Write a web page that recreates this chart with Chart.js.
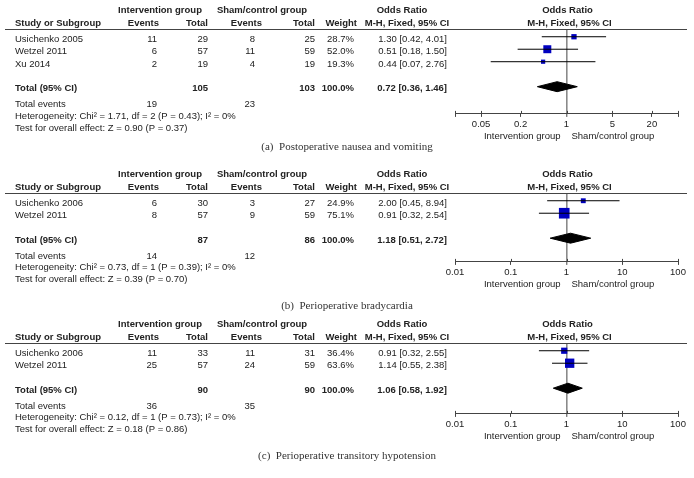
<!DOCTYPE html>
<html>
<head>
<meta charset="utf-8">
<script src="https://cdn.jsdelivr.net/npm/chart.js@4.4.1/dist/chart.umd.min.js"></script>
<style>
  body { margin: 0; background: #fff; }
  #page { position: relative; width: 694px; height: 478px; overflow: hidden; }
  canvas { position: absolute; left: 0; }
  .caption { position: absolute; left: 0; width: 694px; text-align: center; white-space: pre;
             font: 11px "Liberation Serif", "Times New Roman", serif; line-height: 14px; color: #333; }
</style>
</head>
<body>
<div id="page">
  <canvas id="plotA" width="694" height="160" style="top:0px"></canvas>
  <div class="caption" style="top:139px">(a)  Postoperative nausea and vomiting</div>
  <canvas id="plotB" width="694" height="158" style="top:160px"></canvas>
  <div class="caption" style="top:298px">(b)  Perioperative bradycardia</div>
  <canvas id="plotC" width="694" height="160" style="top:318px"></canvas>
  <div class="caption" style="top:448px">(c)  Perioperative transitory hypotension</div>
</div>
<script>
// (a) postoperative nausea and vomiting
const studiesA = ['Usichenko 2005', 'Wetzel 2011', 'Xu 2014'];
const intEventsA = [11, 6, 2];
const intTotalA = [29, 57, 19];
const ctlEventsA = [8, 11, 4];
const ctlTotalA = [25, 59, 19];
const weightA = [28.7, 52.0, 19.3];
const orA = [1.30, 0.51, 0.44];
const loA = [0.42, 0.18, 0.07];
const hiA = [4.01, 1.50, 2.76];
const pooledA = [0.72, 0.36, 1.46];
const hetA = 'Heterogeneity: Chi\u00b2 = 1.71, df = 2 (P = 0.43); I\u00b2 = 0%';
const effectA = 'Test for overall effect: Z = 0.90 (P = 0.37)';
const ticksA = [0.02, 0.05, 0.2, 1, 5, 20, 50];
const tickLabelsA = ['', '0.05', '0.2', '1', '5', '20', ''];

// (b) perioperative bradycardia
const studiesB = ['Usichenko 2006', 'Wetzel 2011'];
const intEventsB = [6, 8];
const intTotalB = [30, 57];
const ctlEventsB = [3, 9];
const ctlTotalB = [27, 59];
const weightB = [24.9, 75.1];
const orB = [2.00, 0.91];
const loB = [0.45, 0.32];
const hiB = [8.94, 2.54];
const pooledB = [1.18, 0.51, 2.72];
const hetB = 'Heterogeneity: Chi\u00b2 = 0.73, df = 1 (P = 0.39); I\u00b2 = 0%';
const effectB = 'Test for overall effect: Z = 0.39 (P = 0.70)';
const ticksB = [0.01, 0.1, 1, 10, 100];
const tickLabelsB = ['0.01', '0.1', '1', '10', '100'];

// (c) perioperative transitory hypotension
const studiesC = ['Usichenko 2006', 'Wetzel 2011'];
const intEventsC = [11, 25];
const intTotalC = [33, 57];
const ctlEventsC = [11, 24];
const ctlTotalC = [31, 59];
const weightC = [36.4, 63.6];
const orC = [0.91, 1.14];
const loC = [0.32, 0.55];
const hiC = [2.55, 2.38];
const pooledC = [1.06, 0.58, 1.92];
const hetC = 'Heterogeneity: Chi\u00b2 = 0.12, df = 1 (P = 0.73); I\u00b2 = 0%';
const effectC = 'Test for overall effect: Z = 0.18 (P = 0.86)';
const ticksC = [0.01, 0.1, 1, 10, 100];
const tickLabelsC = ['0.01', '0.1', '1', '10', '100'];

const SANS = '"Liberation Sans", Arial, sans-serif';
const INK = '#222';
const FS = 9.5;

const sum = arr => arr.reduce((a, b) => a + b, 0);
const ci = (or, lo, hi) => `${or.toFixed(2)} [${lo.toFixed(2)}, ${hi.toFixed(2)}]`;

// table text, header rule and the upward half of the tick marks
function tablePlugin(p) {
  return {
    id: 'forestTable',
    afterDraw(chart) {
      const ctx = chart.ctx;
      const xs = chart.scales.x, ys = chart.scales.y;
      const top = chart.chartArea.top, bottom = chart.chartArea.bottom;
      const one = xs.getPixelForValue(1);
      const n = p.studies.length;

      const text = (s, x, y, align, bold) => {
        ctx.font = `${bold ? 'bold ' : ''}${FS}px ${SANS}`;
        ctx.textAlign = align;
        ctx.fillText(s, x, y);
      };

      ctx.save();
      ctx.fillStyle = INK;
      ctx.textBaseline = 'middle';

      // header
      let y = top - 18.8;
      text('Intervention group', 160, y, 'center', true);
      text('Sham/control group', 262, y, 'center', true);
      text('Odds Ratio', 402, y, 'center', true);
      text('Odds Ratio', one + 1, y, 'center', true);
      y = top - 5.8;
      text('Study or Subgroup', 15, y, 'left', true);
      text('Events', 159, y, 'right', true);
      text('Total', 208, y, 'right', true);
      text('Events', 262, y, 'right', true);
      text('Total', 315, y, 'right', true);
      text('Weight', 357, y, 'right', true);
      text('M-H, Fixed, 95% CI', 407, y, 'center', true);
      text('M-H, Fixed, 95% CI', one + 3, y, 'center', true);

      // studies
      p.studies.forEach((name, i) => {
        const ry = ys.getPixelForValue(i) + 2.5;
        text(name, 15, ry, 'left');
        text(String(p.intEvents[i]), 157, ry, 'right');
        text(String(p.intTotal[i]), 208, ry, 'right');
        text(String(p.ctlEvents[i]), 255, ry, 'right');
        text(String(p.ctlTotal[i]), 315, ry, 'right');
        text(p.weight[i].toFixed(1) + '%', 354, ry, 'right');
        text(ci(p.or[i], p.lo[i], p.hi[i]), 447, ry, 'right');
      });

      // pooled
      const tr = n + 1;
      y = ys.getPixelForValue(tr) + 2;
      text('Total (95% CI)', 15, y, 'left', true);
      text(String(sum(p.intTotal)), 208, y, 'right', true);
      text(String(sum(p.ctlTotal)), 315, y, 'right', true);
      text(sum(p.weight).toFixed(1) + '%', 354, y, 'right', true);
      text(ci(p.pooled[0], p.pooled[1], p.pooled[2]), 447, y, 'right', true);
      y = ys.getPixelForValue(tr + 1.26) + 2;
      text('Total events', 15, y, 'left');
      text(String(sum(p.intEvents)), 157, y, 'right');
      text(String(sum(p.ctlEvents)), 255, y, 'right');
      text(p.het, 15, ys.getPixelForValue(tr + 2.2) + 2, 'left');
      text(p.effect, 15, ys.getPixelForValue(tr + 3.14) + 2, 'left');

      // axis titles either side of no effect
      text('Intervention group', one - 6, bottom + 22, 'right');
      text('Sham/control group', one + 5, bottom + 22, 'left');

      // rule under the header
      ctx.strokeStyle = '#555';
      ctx.lineWidth = 1;
      ctx.beginPath();
      const hy = Math.round(top) + 0.5;
      ctx.moveTo(5, hy);
      ctx.lineTo(687, hy);
      // tick marks cross the axis line
      xs.ticks.forEach(t => {
        const px = Math.round(xs.getPixelForValue(t.value)) + 0.5;
        ctx.moveTo(px, bottom - 3);
        ctx.lineTo(px, bottom);
      });
      ctx.strokeStyle = '#444';
      ctx.stroke();
      ctx.restore();
    }
  };
}

function forestPlot(id, p) {
  const n = p.studies.length;
  const tr = n + 1;
  const datasets = [];

  // confidence intervals
  p.lo.forEach((lo, i) => {
    datasets.push({
      type: 'line',
      data: [{ x: lo, y: i }, { x: p.hi[i], y: i }],
      borderColor: '#000', borderWidth: 1, pointRadius: 0, fill: false,
    });
  });

  // point estimates, size by weight
  datasets.push({
    type: 'scatter',
    data: p.or.map((v, i) => ({ x: v, y: i })),
    pointStyle: 'rect',
    pointRadius: p.weight.map(w => (2 + 0.115 * w) / Math.SQRT2),
    backgroundColor: '#0000c0',
    borderWidth: 0,
  });

  // pooled diamond
  const [est, lo, hi] = p.pooled;
  datasets.push({
    type: 'line',
    data: [
      { x: lo, y: tr }, { x: est, y: tr - 0.4 }, { x: hi, y: tr },
      { x: est, y: tr + 0.4 }, { x: lo, y: tr },
    ],
    fill: 'shape', backgroundColor: '#000', borderColor: '#000',
    borderWidth: 1, pointRadius: 0, tension: 0,
  });

  return new Chart(document.getElementById(id), {
    type: 'scatter',
    data: { datasets },
    options: {
      responsive: false,
      animation: false,
      events: [],
      layout: { padding: { left: 455, right: 16, top: p.padTop, bottom: p.padBottom } },
      plugins: { legend: { display: false }, tooltip: { enabled: false } },
      scales: {
        x: {
          type: 'logarithmic',
          bounds: 'data',
          min: p.ticks[0],
          max: p.ticks[p.ticks.length - 1],
          afterBuildTicks: s => { s.ticks = p.ticks.map(v => ({ value: v })); },
          ticks: {
            callback: (v, i) => p.tickLabels[i],
            autoSkip: false, maxRotation: 0, padding: 2,
            color: INK, font: { family: SANS, size: FS },
          },
          grid: {
            drawOnChartArea: true,
            color: c => (c.tick && c.tick.value === 1 ? '#8a8a8a' : 'rgba(0,0,0,0)'),
            lineWidth: c => (c.tick && c.tick.value === 1 ? 1.6 : 1),
            tickColor: '#444', tickLength: 3, tickWidth: 1,
          },
          border: { display: true, color: '#444', width: 1 },
        },
        y: { type: 'linear', reverse: true, min: -0.62, max: p.yMax, display: false },
      },
    },
    plugins: [tablePlugin(p)],
  });
}

forestPlot('plotA', {
  studies: studiesA, intEvents: intEventsA, intTotal: intTotalA, ctlEvents: ctlEventsA,
  ctlTotal: ctlTotalA, weight: weightA, or: orA, lo: loA, hi: hiA, pooled: pooledA,
  het: hetA, effect: effectA, ticks: ticksA, tickLabels: tickLabelsA,
  padTop: 29, padBottom: 27.7, yMax: 6.18,
});
forestPlot('plotB', {
  studies: studiesB, intEvents: intEventsB, intTotal: intTotalB, ctlEvents: ctlEventsB,
  ctlTotal: ctlTotalB, weight: weightB, or: orB, lo: loB, hi: hiB, pooled: pooledB,
  het: hetB, effect: effectB, ticks: ticksB, tickLabels: tickLabelsB,
  padTop: 33, padBottom: 37.7, yMax: 4.9,
});
forestPlot('plotC', {
  studies: studiesC, intEvents: intEventsC, intTotal: intTotalC, ctlEvents: ctlEventsC,
  ctlTotal: ctlTotalC, weight: weightC, or: orC, lo: loC, hi: hiC, pooled: pooledC,
  het: hetC, effect: effectC, ticks: ticksC, tickLabels: tickLabelsC,
  padTop: 25, padBottom: 45.7, yMax: 5.06,
});
</script>
</body>
</html>
